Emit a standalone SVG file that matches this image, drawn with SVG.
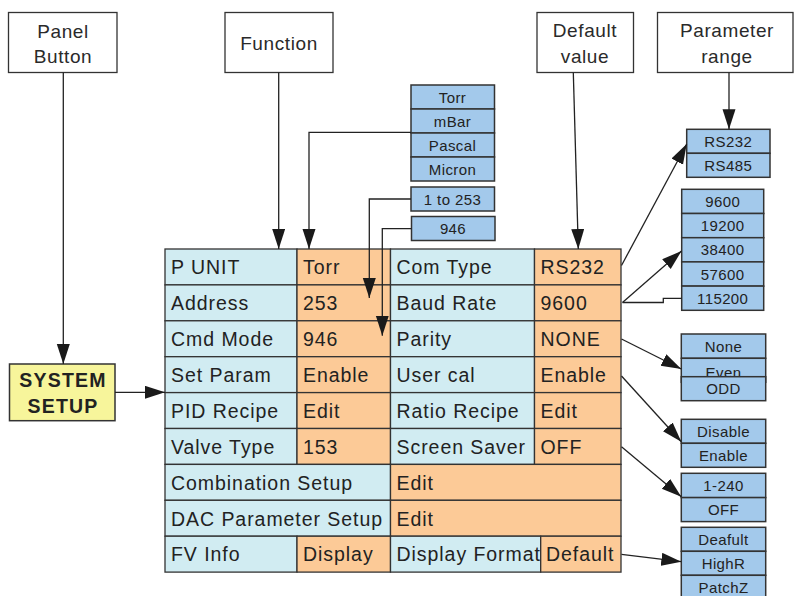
<svg xmlns="http://www.w3.org/2000/svg" width="795" height="596" viewBox="0 0 795 596">
<style>
.hb{fill:#fff;stroke:#333;stroke-width:1.3}
.lb{fill:#d1ecf2;stroke:#333;stroke-width:1.3}
.or{fill:#fcca97;stroke:#333;stroke-width:1.3}
.ls{fill:#a3c9eb;stroke:#333;stroke-width:1.5}
.ys{fill:#f7f59b;stroke:#333;stroke-width:1.5}
text{font-family:"Liberation Sans",Arial,sans-serif;fill:#222}
.t{font-size:19.5px;letter-spacing:0.95px}
.h{font-size:19px;letter-spacing:0.6px;text-anchor:middle;fill:#2a2a2a}
.s{font-size:15px;letter-spacing:0.4px;text-anchor:middle}
.b{font-size:19.5px;font-weight:bold;letter-spacing:1.2px;text-anchor:middle}
.c{fill:none;stroke:#222;stroke-width:1.3}
</style>
<defs>
<marker id="ah" markerUnits="userSpaceOnUse" markerWidth="20" markerHeight="14" refX="20" refY="6.5" orient="auto">
<path d="M0,0 L20,6.5 L0,13 z" fill="#1a1a1a"/>
</marker>
</defs>

<g id="panel-button">
<rect class="hb" x="8.5" y="12.5" width="108.5" height="60"/>
<text class="h" x="63" y="38">Panel</text>
<text class="h" x="63" y="63">Button</text>
</g>
<g id="function">
<rect class="hb" x="225" y="12.5" width="108" height="60"/>
<text class="h" x="279" y="50">Function</text>
</g>
<g id="default-value">
<rect class="hb" x="537" y="12.5" width="96.5" height="60"/>
<text class="h" x="585" y="37">Default</text>
<text class="h" x="585" y="63">value</text>
</g>
<g id="parameter-range">
<rect class="hb" x="657.5" y="12.5" width="135.5" height="60"/>
<text class="h" x="727" y="37">Parameter</text>
<text class="h" x="727" y="63">range</text>
</g>

<g id="system-setup">
<rect class="ys" x="9.5" y="364" width="105.5" height="56.7"/>
<text class="b" x="63" y="386.5">SYSTEM</text>
<text class="b" x="63" y="412.5">SETUP</text>
</g>

<g id="table">
<rect class="lb" x="165" y="249" width="132" height="35.9"/>
<rect class="or" x="297" y="249" width="93.5" height="35.9"/>
<rect class="lb" x="390.5" y="249" width="144" height="35.9"/>
<rect class="or" x="534.5" y="249" width="86.5" height="35.9"/>
<rect class="lb" x="165" y="284.9" width="132" height="35.9"/>
<rect class="or" x="297" y="284.9" width="93.5" height="35.9"/>
<rect class="lb" x="390.5" y="284.9" width="144" height="35.9"/>
<rect class="or" x="534.5" y="284.9" width="86.5" height="35.9"/>
<rect class="lb" x="165" y="320.8" width="132" height="35.9"/>
<rect class="or" x="297" y="320.8" width="93.5" height="35.9"/>
<rect class="lb" x="390.5" y="320.8" width="144" height="35.9"/>
<rect class="or" x="534.5" y="320.8" width="86.5" height="35.9"/>
<rect class="lb" x="165" y="356.7" width="132" height="35.9"/>
<rect class="or" x="297" y="356.7" width="93.5" height="35.9"/>
<rect class="lb" x="390.5" y="356.7" width="144" height="35.9"/>
<rect class="or" x="534.5" y="356.7" width="86.5" height="35.9"/>
<rect class="lb" x="165" y="392.6" width="132" height="35.9"/>
<rect class="or" x="297" y="392.6" width="93.5" height="35.9"/>
<rect class="lb" x="390.5" y="392.6" width="144" height="35.9"/>
<rect class="or" x="534.5" y="392.6" width="86.5" height="35.9"/>
<rect class="lb" x="165" y="428.5" width="132" height="35.9"/>
<rect class="or" x="297" y="428.5" width="93.5" height="35.9"/>
<rect class="lb" x="390.5" y="428.5" width="144" height="35.9"/>
<rect class="or" x="534.5" y="428.5" width="86.5" height="35.9"/>
<rect class="lb" x="165" y="464.4" width="225.5" height="35.9"/>
<rect class="or" x="390.5" y="464.4" width="230.5" height="35.9"/>
<rect class="lb" x="165" y="500.3" width="225.5" height="35.9"/>
<rect class="or" x="390.5" y="500.3" width="230.5" height="35.9"/>
<rect class="lb" x="165" y="536.2" width="132" height="35.9"/>
<rect class="or" x="297" y="536.2" width="93.5" height="35.9"/>
<rect class="lb" x="390.5" y="536.2" width="150.2" height="35.9"/>
<rect class="or" x="540.7" y="536.2" width="80.3" height="35.9"/>

<text class="t" x="171" y="274">P UNIT</text>
<text class="t" x="303" y="274">Torr</text>
<text class="t" x="396.5" y="274">Com Type</text>
<text class="t" x="540.5" y="274">RS232</text>
<text class="t" x="171" y="310">Address</text>
<text class="t" x="303" y="310">253</text>
<text class="t" x="396.5" y="310">Baud Rate</text>
<text class="t" x="540.5" y="310">9600</text>
<text class="t" x="171" y="346">Cmd Mode</text>
<text class="t" x="303" y="346">946</text>
<text class="t" x="396.5" y="346">Parity</text>
<text class="t" x="540.5" y="346">NONE</text>
<text class="t" x="171" y="382">Set Param</text>
<text class="t" x="303" y="382">Enable</text>
<text class="t" x="396.5" y="382">User cal</text>
<text class="t" x="540.5" y="382">Enable</text>
<text class="t" x="171" y="417.5">PID Recipe</text>
<text class="t" x="303" y="417.5">Edit</text>
<text class="t" x="396.5" y="417.5">Ratio Recipe</text>
<text class="t" x="540.5" y="417.5">Edit</text>
<text class="t" x="171" y="453.5">Valve Type</text>
<text class="t" x="303" y="453.5">153</text>
<text class="t" x="396.5" y="453.5">Screen Saver</text>
<text class="t" x="540.5" y="453.5">OFF</text>
<text class="t" x="171" y="489.5">Combination Setup</text>
<text class="t" x="396.5" y="489.5">Edit</text>
<text class="t" x="171" y="525.5">DAC Parameter Setup</text>
<text class="t" x="396.5" y="525.5">Edit</text>
<text class="t" x="171" y="561">FV Info</text>
<text class="t" x="303" y="561">Display</text>
<text class="t" x="396.5" y="561">Display Format</text>
<text class="t" x="546" y="561">Default</text>
</g>

<g id="unit-list">
<rect class="ls" x="411" y="85" width="83.5" height="24"/>
<rect class="ls" x="411" y="109" width="83.5" height="24"/>
<rect class="ls" x="411" y="133" width="83.5" height="24"/>
<rect class="ls" x="411" y="157" width="83.5" height="24"/>
<text class="s" x="452.5" y="102.5">Torr</text>
<text class="s" x="452.5" y="126.5">mBar</text>
<text class="s" x="452.5" y="150.5">Pascal</text>
<text class="s" x="452.5" y="174.5">Micron</text>
</g>
<g id="address-range">
<rect class="ls" x="411" y="187" width="83.5" height="24"/>
<text class="s" x="452.5" y="204.5">1 to 253</text>
</g>
<g id="cmd-mode-range">
<rect class="ls" x="411.5" y="216.5" width="83.5" height="24"/>
<text class="s" x="453" y="234">946</text>
</g>
<g id="com-type-list">
<rect class="ls" x="686.7" y="129.3" width="83.3" height="24"/>
<rect class="ls" x="686.7" y="153.3" width="83.3" height="24"/>
<text class="s" x="728.3" y="146.8">RS232</text>
<text class="s" x="728.3" y="170.8">RS485</text>
</g>
<g id="baud-list">
<rect class="ls" x="681.7" y="189.3" width="82" height="24.2"/>
<rect class="ls" x="681.7" y="213.5" width="82" height="24.2"/>
<rect class="ls" x="681.7" y="237.7" width="82" height="24.2"/>
<rect class="ls" x="681.7" y="261.9" width="82" height="24.2"/>
<rect class="ls" x="681.7" y="286.1" width="82" height="24.2"/>
<text class="s" x="722.7" y="206.9">9600</text>
<text class="s" x="722.7" y="231.1">19200</text>
<text class="s" x="722.7" y="255.3">38400</text>
<text class="s" x="722.7" y="279.5">57600</text>
<text class="s" x="722.7" y="303.7">115200</text>
</g>
<g id="parity-list">
<rect class="ls" x="681.3" y="334" width="84.4" height="24.3"/>
<rect class="ls" x="681.3" y="358.3" width="84.4" height="24"/>
<text class="s" x="723.5" y="351.5">None</text>
<text class="s" x="723.5" y="378">Even</text>
<rect class="ls" x="681.3" y="376.7" width="84.4" height="24"/>
<text class="s" x="723.5" y="394.2">ODD</text>
</g>
<g id="user-cal-list">
<rect class="ls" x="681.3" y="419.3" width="84.4" height="24"/>
<rect class="ls" x="681.3" y="443.3" width="84.4" height="24"/>
<text class="s" x="723.5" y="436.8">Disable</text>
<text class="s" x="723.5" y="460.8">Enable</text>
</g>
<g id="screen-saver-list">
<rect class="ls" x="681.3" y="473.3" width="84.4" height="24.3"/>
<rect class="ls" x="681.3" y="497.6" width="84.4" height="24"/>
<text class="s" x="723.5" y="491">1-240</text>
<text class="s" x="723.5" y="515">OFF</text>
</g>
<g id="display-format-list">
<rect class="ls" x="681.3" y="527.3" width="84.4" height="24"/>
<rect class="ls" x="681.3" y="551.3" width="84.4" height="24"/>
<rect class="ls" x="681.3" y="575.3" width="84.4" height="24"/>
<text class="s" x="723.5" y="544.8">Deafult</text>
<text class="s" x="723.5" y="568.8">HighR</text>
<text class="s" x="723.5" y="592.8">PatchZ</text>
</g>

<g id="connectors">
<line class="c" x1="63.3" y1="72.5" x2="63.3" y2="364" marker-end="url(#ah)"/>
<line class="c" x1="115" y1="392.3" x2="165" y2="392.3" marker-end="url(#ah)"/>
<line class="c" x1="278.7" y1="72.5" x2="278.7" y2="249" marker-end="url(#ah)"/>
<line class="c" x1="573.3" y1="72.5" x2="578.3" y2="249" marker-end="url(#ah)"/>
<line class="c" x1="729" y1="72.5" x2="729" y2="129.3" marker-end="url(#ah)"/>
<polyline class="c" points="411,132.3 309,132.3 309,249" marker-end="url(#ah)"/>
<polyline class="c" points="411,199 369.3,199 369.3,298" marker-end="url(#ah)"/>
<polyline class="c" points="411.5,228.7 382.3,228.7 382.3,335.7" marker-end="url(#ah)"/>
<line class="c" x1="621.5" y1="265.5" x2="686.7" y2="144" marker-end="url(#ah)"/>
<line class="c" x1="622.5" y1="302.5" x2="681.5" y2="251" marker-end="url(#ah)"/>
<polyline class="c" points="622.5,302.5 663.3,302.5 663.3,298.3 681.7,298.3"/>
<line class="c" x1="621.5" y1="339" x2="681.3" y2="369" marker-end="url(#ah)"/>
<line class="c" x1="621.5" y1="376" x2="681.3" y2="441.7" marker-end="url(#ah)"/>
<line class="c" x1="621.5" y1="446.7" x2="681.3" y2="496.7" marker-end="url(#ah)"/>
<line class="c" x1="621.5" y1="554.3" x2="681.3" y2="561.7" marker-end="url(#ah)"/>
</g>
</svg>
